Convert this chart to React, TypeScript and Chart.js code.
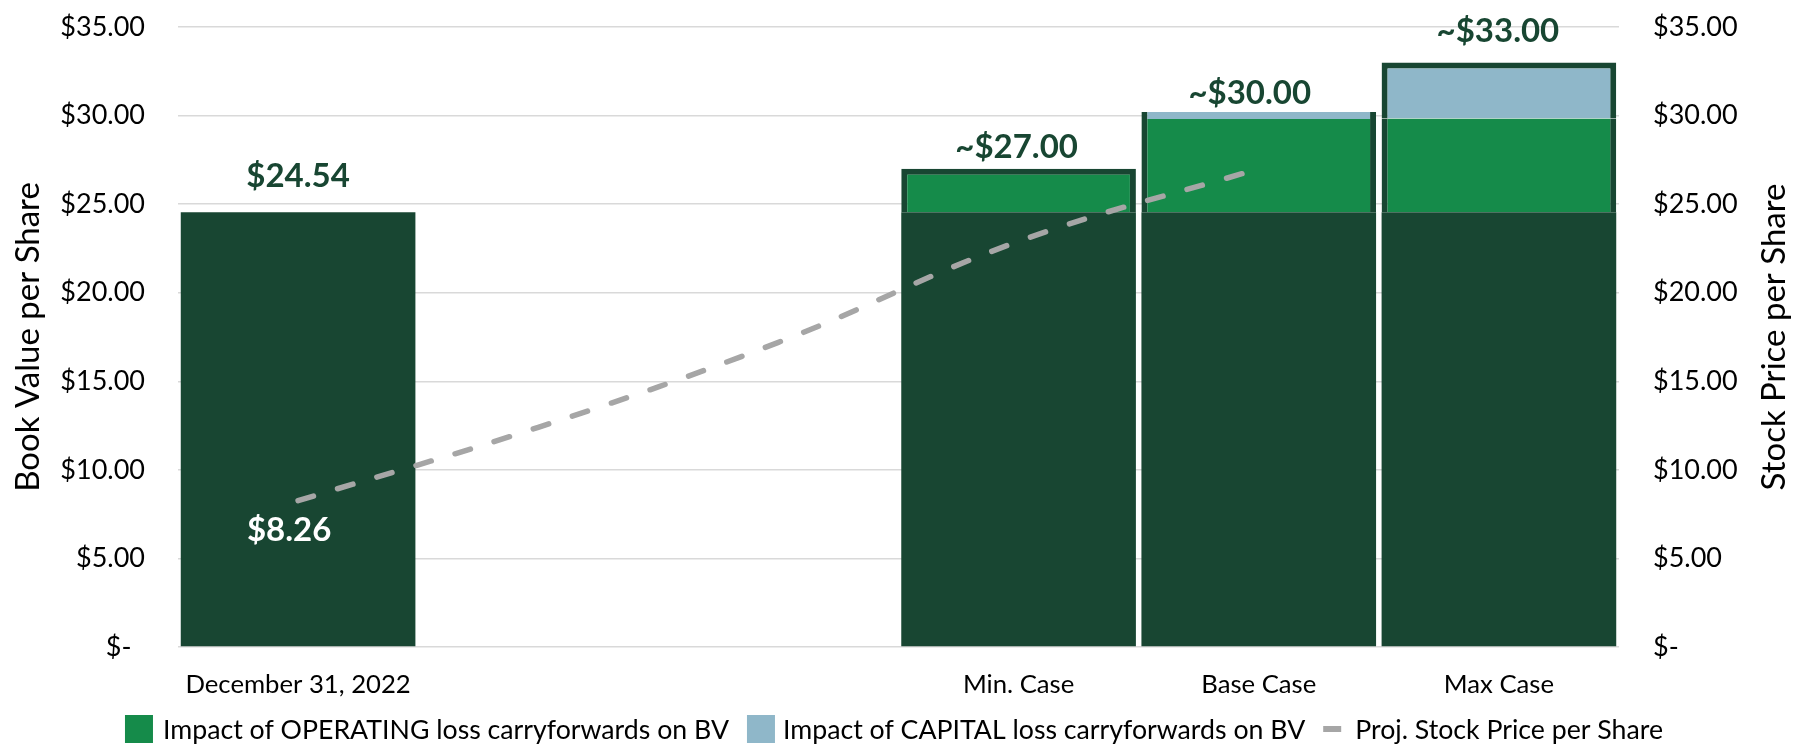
import React, { useEffect, useRef } from 'react';
import { Chart, registerables } from 'chart.js';

Chart.register(...registerables);

// ---------- data ----------
const categories = ['December 31, 2022', '', '', 'Min. Case', 'Base Case', 'Max Case'];
const bookValue = [24.54, null, null, 24.54, 24.54, 24.54];
const operatingImpact = [null, null, null, 2.46, 5.26, 5.29];
const capitalImpact = [null, null, null, null, 0.4, 3.17];
const stockPrice = [8.26, 12.4, 17.2, 22.9, 27.0, null];
const barLabels = ['$24.54', '', '', '~$27.00', '~$30.00', '~$33.00'];
const priceLabels = ['$8.26', '', '', '', '', ''];
const axisMin = 0;
const axisMax = 35;
const axisStep = 5;
const seriesNames = [
  'Impact of OPERATING loss carryforwards on BV',
  'Impact of CAPITAL loss carryforwards on BV',
  'Proj. Stock Price per Share',
];
const leftTitle = 'Book Value per Share';
const rightTitle = 'Stock Price per Share';

// ---------- styles ----------
const DARK = '#184632';
const GREEN = '#158B4A';
const BLUE = '#8FB7C9';
const GRAY = '#A6A6A6';
const GRID = '#D9D9D9';
const FONT = 'Lato, "Open Sans", sans-serif';
const BORDER = 6;
const labelShift = [
  [0, 36],
  [0, 0],
  [0, 0],
  [-2, 21],
  [-9, 19],
  [-1, 31],
];

const fmt = (v: number) => (v === 0 ? '$-\u2002' : '$' + v.toFixed(2));

const overlay = {
  id: 'overlay',
  afterDatasetsDraw(chart: any) {
    const ctx = chart.ctx;
    const xs = chart.scales.x;
    const ys = chart.scales.y;
    const y2 = chart.scales.y2;
    ctx.save();
    ctx.textAlign = 'center';
    ctx.textBaseline = 'middle';
    ctx.font = `bold 33px ${FONT}`;
    ctx.fillStyle = DARK;
    barLabels.forEach((t, i) => {
      if (!t) return;
      const total = [bookValue, operatingImpact, capitalImpact].reduce(
        (s, a) => s + ((a[i] as number) ?? 0),
        0
      );
      ctx.fillText(t, xs.getPixelForValue(i) + labelShift[i][0], ys.getPixelForValue(total) - labelShift[i][1]);
    });
    ctx.fillStyle = '#FFFFFF';
    priceLabels.forEach((t, i) => {
      if (!t || stockPrice[i] == null) return;
      ctx.fillText(t, xs.getPixelForValue(i) - 9, y2.getPixelForValue(stockPrice[i] as number) + 30);
    });
    ctx.restore();
  },
  afterDraw(chart: any) {
    const ctx = chart.ctx;
    const area = chart.chartArea;
    const cy = (area.top + area.bottom) / 2;
    ctx.save();
    // axis titles
    ctx.font = `33px ${FONT}`;
    ctx.fillStyle = '#000';
    ctx.textAlign = 'center';
    ctx.textBaseline = 'middle';
    [[28, leftTitle], [1774, rightTitle]].forEach(([x, t]) => {
      ctx.save();
      ctx.translate(x as number, cy);
      ctx.rotate(-Math.PI / 2);
      ctx.fillText(t as string, 0, 0);
      ctx.restore();
    });
    // legend
    ctx.font = `26.7px ${FONT}`;
    ctx.textAlign = 'left';
    const box = 28;
    const markerW = [box, box, 18];
    const gapAfterMarker = [10, 8, 14];
    const gapItem = 18;
    const widths = seriesNames.map((n, i) => markerW[i] + gapAfterMarker[i] + ctx.measureText(n).width);
    const total = widths.reduce((a, b) => a + b, 0) + gapItem * (seriesNames.length - 1);
    let x = 894 - total / 2;
    const ly = 729;
    const colors = [GREEN, BLUE, GRAY];
    seriesNames.forEach((n, i) => {
      ctx.fillStyle = colors[i];
      if (i < 2) {
        ctx.fillRect(x, ly - box / 2, box, box);
      } else {
        ctx.strokeStyle = GRAY;
        ctx.lineWidth = 6;
        ctx.lineCap = 'butt';
        ctx.beginPath();
        ctx.moveTo(x, ly);
        ctx.lineTo(x + markerW[i], ly);
        ctx.stroke();
      }
      ctx.fillStyle = '#000';
      ctx.fillText(n, x + markerW[i] + gapAfterMarker[i], ly + 1);
      x += widths[i] + gapItem;
    });
    ctx.restore();
  },
};

const sideBorder = (top: (i: number) => boolean) => (c: any) => {
  const i = c.dataIndex;
  return { top: top(i) ? BORDER : 0, left: BORDER, right: BORDER, bottom: 0 };
};

export default function App() {
  const ref = useRef<HTMLCanvasElement>(null);
  useEffect(() => {
    if (!ref.current) return;
    const chart = new Chart(ref.current, {
      type: 'bar',
      data: {
        labels: categories,
        datasets: [
          {
            type: 'line',
            label: seriesNames[2],
            data: stockPrice,
            yAxisID: 'y2',
            borderColor: GRAY,
            borderWidth: 5.5,
            borderDash: [16, 25],
            borderCapStyle: 'round',
            pointRadius: 0,
            tension: 0.4,
            fill: false,
            order: 0,
          } as any,
          {
            label: 'Book Value',
            data: bookValue,
            backgroundColor: DARK,
            borderWidth: 0,
            stack: 'bv',
            order: 1,
          },
          {
            label: seriesNames[0],
            data: operatingImpact,
            backgroundColor: GREEN,
            borderColor: DARK,
            borderSkipped: false,
            borderWidth: sideBorder((i) => capitalImpact[i] == null),
            stack: 'bv',
            order: 1,
          } as any,
          {
            label: seriesNames[1],
            data: capitalImpact,
            backgroundColor: BLUE,
            borderColor: DARK,
            borderSkipped: false,
            borderWidth: sideBorder((i) => (capitalImpact[i] as number) > 1),
            stack: 'bv',
            order: 1,
          } as any,
        ],
      },
      options: {
        animation: false,
        responsive: true,
        maintainAspectRatio: false,
        layout: { padding: { top: 27, bottom: 37, left: 0, right: 0 } },
        datasets: { bar: { barPercentage: 0.977, categoryPercentage: 1 } },
        plugins: { legend: { display: false }, tooltip: { enabled: false } },
        scales: {
          x: {
            stacked: true,
            grid: { display: false, drawTicks: false },
            border: { display: false },
            ticks: { color: '#000', font: { family: FONT, size: 25.7 }, padding: 22, autoSkip: false, maxRotation: 0 },
            afterFit: (s: any) => { s.height = 60; },
          },
          y: {
            stacked: true,
            position: 'left',
            min: axisMin,
            max: axisMax,
            grid: { color: GRID, lineWidth: 1.5, drawTicks: true, tickLength: 33, tickColor: 'rgba(0,0,0,0)' },
            border: { display: false },
            ticks: { stepSize: axisStep, color: '#000', font: { family: FONT, size: 27 }, padding: 0, callback: (v: any) => fmt(Number(v)) },
            afterFit: (s: any) => { s.width = 178; },
          },
          y2: {
            position: 'right',
            min: axisMin,
            max: axisMax,
            grid: { display: true, drawOnChartArea: false, drawTicks: true, tickLength: 34, tickColor: 'rgba(0,0,0,0)' },
            border: { display: false },
            ticks: { stepSize: axisStep, color: '#000', font: { family: FONT, size: 27 }, padding: 0, callback: (v: any) => fmt(Number(v)) },
            afterFit: (s: any) => { s.width = 186; },
          },
        },
      } as any,
      plugins: [overlay],
    });
    return () => chart.destroy();
  }, []);
  return (
    <div style={{ position: 'absolute', left: 0, top: 0, width: 1805, height: 744, background: '#fff' }}>
      <canvas ref={ref} />
    </div>
  );
}
